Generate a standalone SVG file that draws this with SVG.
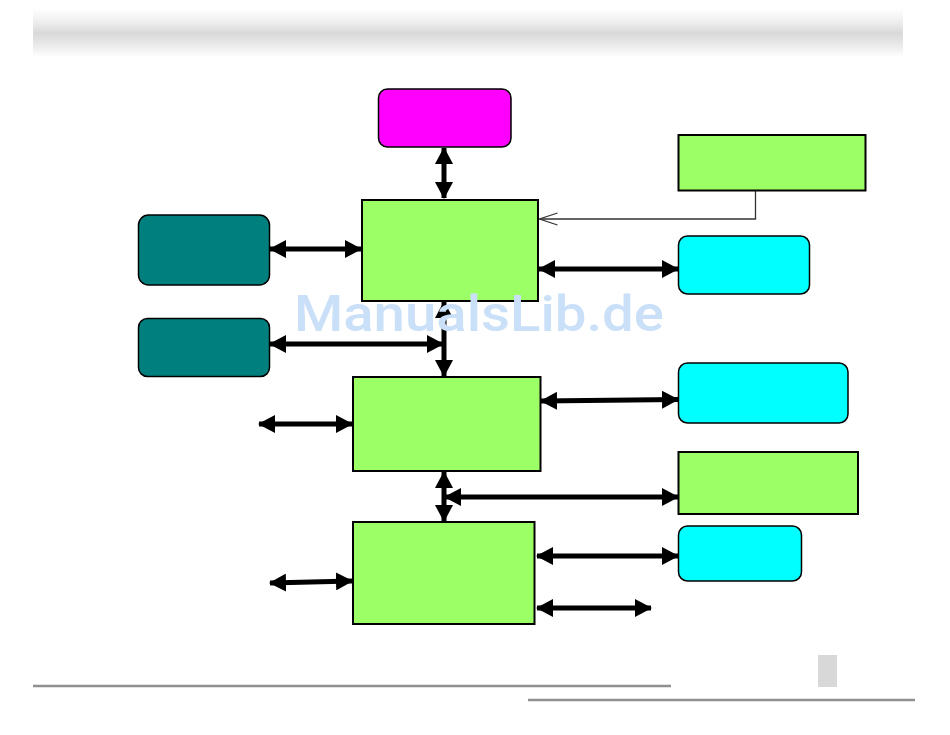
<svg xmlns="http://www.w3.org/2000/svg" width="950" height="735" viewBox="0 0 950 735">
<defs>
<linearGradient id="band" x1="0" y1="0" x2="0" y2="1">
<stop offset="0" stop-color="#ffffff"/>
<stop offset="0.3" stop-color="#ececec"/>
<stop offset="0.5" stop-color="#d9d9d9"/>
<stop offset="0.7" stop-color="#e6e6e6"/>
<stop offset="1" stop-color="#ffffff"/>
</linearGradient>
<marker id="ah" markerUnits="userSpaceOnUse" markerWidth="17" markerHeight="18" refX="16" refY="9" orient="auto-start-reverse" viewBox="0 0 17 18">
<path d="M0,0 L17,9 L0,18 z" fill="#000"/>
</marker>
<marker id="open" markerUnits="userSpaceOnUse" markerWidth="20" markerHeight="14" refX="19" refY="7" orient="auto" viewBox="0 0 20 14">
<path d="M1,1 L19,7 L1,13" fill="none" stroke="#333" stroke-width="1.3"/>
</marker>
</defs>
<style>
.g{fill:#9cff66;stroke:#000;stroke-width:2}
.c{fill:#00ffff;stroke:#000;stroke-width:1.5}
.t{fill:#007f7f;stroke:#000;stroke-width:1.5}
.m{fill:#ff00ff;stroke:#000;stroke-width:1.5}
.a{stroke:#000;stroke-width:5;fill:none;marker-start:url(#ah);marker-end:url(#ah)}
.rule{stroke:#909090;stroke-width:2.5}
</style>
<rect x="0" y="0" width="950" height="735" fill="#fff"/>
<rect x="33" y="9" width="870" height="48" fill="url(#band)"/>
<line class="rule" x1="33" y1="686" x2="671" y2="686"/>
<line class="rule" x1="528" y1="700" x2="915" y2="700"/>
<rect x="818" y="655" width="19" height="32" fill="#d8d8d8"/>

<g id="connectors">
<line class="a" x1="444" y1="148" x2="444" y2="198"/>
<line class="a" x1="270" y1="249" x2="361" y2="249"/>
<line class="a" x1="270" y1="344" x2="443" y2="344"/>
<line class="a" x1="444" y1="302" x2="444" y2="376"/>
<polyline points="755.5,191 755.5,219 539.5,219" fill="none" stroke="#333" stroke-width="1.3" marker-end="url(#open)"/>
<line class="a" x1="539" y1="269" x2="678" y2="269"/>
<line class="a" x1="259" y1="424" x2="352" y2="424"/>
<line class="a" x1="541" y1="401" x2="678" y2="399.5"/>
<line class="a" x1="444" y1="472" x2="444" y2="521"/>
<line class="a" x1="445" y1="497" x2="678" y2="497"/>
<line class="a" x1="537" y1="556" x2="678" y2="556"/>
<line class="a" x1="537" y1="608" x2="651" y2="608"/>
<line class="a" x1="270" y1="583" x2="352" y2="581"/>
</g>

<g id="node-magenta"><rect class="m" x="378.5" y="89" width="132.5" height="58" rx="9"/></g>
<g id="node-north"><rect class="g" x="362" y="200" width="176" height="101"/></g>
<g id="node-topright"><rect class="g" x="678.5" y="135" width="187" height="55.5"/></g>
<g id="node-teal1"><rect class="t" x="138.5" y="215" width="131" height="70" rx="10"/></g>
<g id="node-teal2"><rect class="t" x="138.5" y="318.5" width="131" height="58" rx="9"/></g>
<g id="node-cyan1"><rect class="c" x="678.5" y="236" width="131" height="58" rx="9"/></g>
<g id="node-south"><rect class="g" x="353" y="377" width="187.5" height="94"/></g>
<g id="node-cyan2"><rect class="c" x="678.5" y="363" width="169.5" height="60" rx="9"/></g>
<g id="node-right"><rect class="g" x="678.5" y="452" width="179.5" height="62"/></g>
<g id="node-cyan3"><rect class="c" x="678.5" y="526" width="123" height="55" rx="9"/></g>
<g id="node-bottom"><rect class="g" x="353" y="522" width="181.5" height="102"/></g>

<text x="294" y="331" font-family="Roboto, 'Liberation Sans', sans-serif" font-weight="500" font-size="50" fill="#cadff8" textLength="370" lengthAdjust="spacingAndGlyphs">ManualsLib.de</text>
</svg>
